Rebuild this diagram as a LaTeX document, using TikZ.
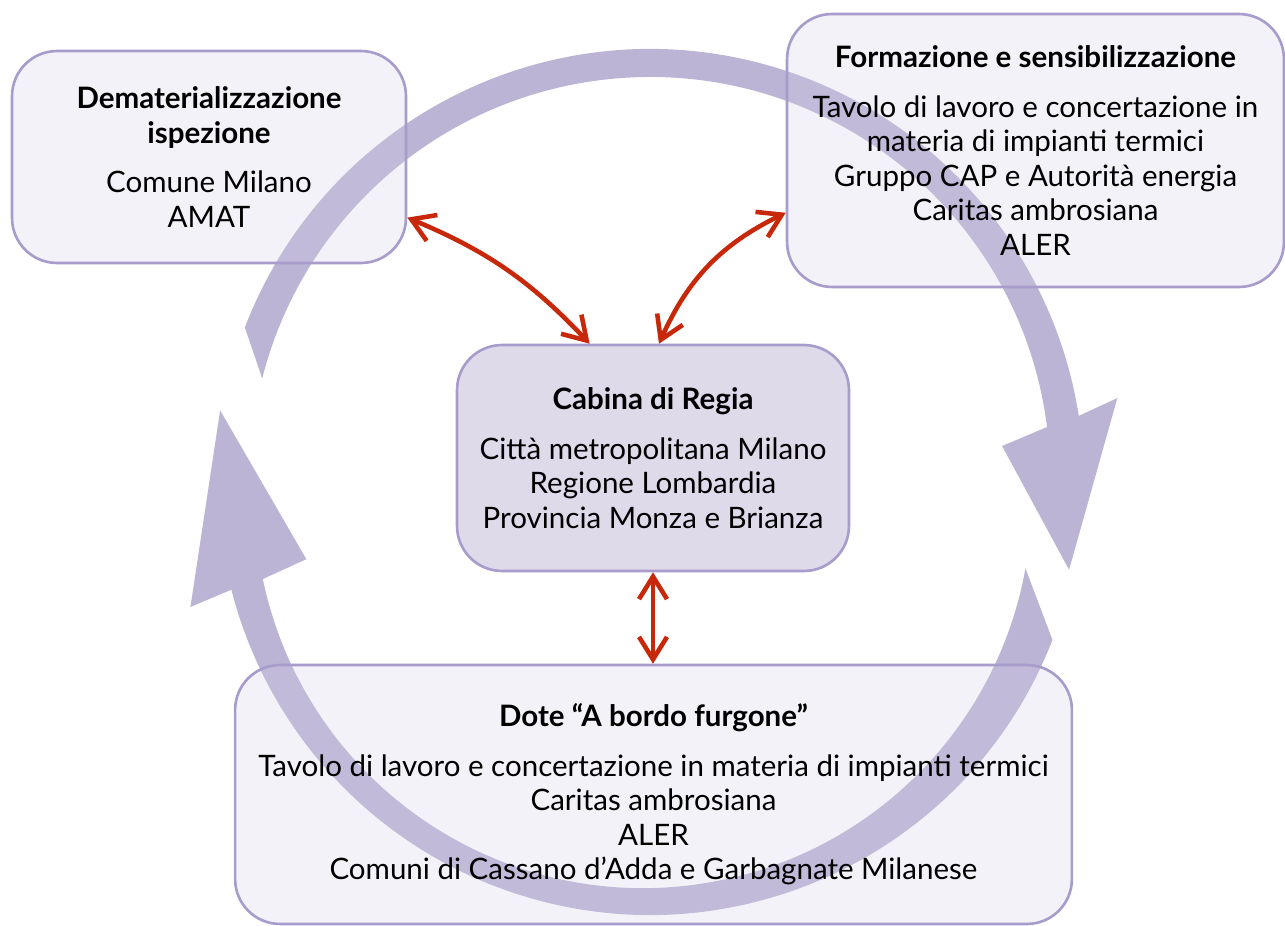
\documentclass[tikz,border=0pt]{standalone}
\usepackage{fontspec}
\setmainfont{Lato}
\usetikzlibrary{arrows.meta}
\definecolor{loopviolet}{RGB}{188,180,213}
\definecolor{boxedge}{RGB}{168,156,204}
\definecolor{boxlight}{RGB}{208,205,228}
\definecolor{boxdark}{RGB}{222,218,234}
\definecolor{linkred}{RGB}{200,40,10}
\tikzset{
  actor/.style={draw=boxedge, line width=1.5pt, rounded corners=0.9cm, fill=boxlight,
    fill opacity=0.25, text opacity=1, align=center, inner sep=0pt,
    font=\fontsize{16.8}{19.6}\selectfont},
  link/.style={draw=linkred, line width=2.6pt, <->, >={Straight Barb[length=4.5mm,width=5.6mm]}},
}

\begin{document}
\begin{tikzpicture}[x=0.02cm,y=0.02cm]
      \useasboundingbox (0,0) rectangle (1285,-926);
      % the two big arrows of the cycle
      \begin{scope}[shift={(650,-483)}]
        \fill[loopviolet] (159:434) arc[start angle=159, end angle=8.9, radius=434]
          -- (10.3:475) -- (-11.7:428) -- (6:354)
          -- ([shift={(0,5.8)}]7.2:400.2) arc[start angle=7.2, end angle=165.7, radius=400.2] -- cycle;
        \fill[loopviolet] (-21.3:432) arc[start angle=-21.3, end angle=-165.7, radius=432]
          -- (-164.9:476) -- (-189.6:436) -- (-167.5:352)
          -- ([shift={(-6.9,-16.6)}]-168.2:388.5) arc[start angle=-168.2, end angle=-10.2, radius=388.5] -- cycle;
      \end{scope}
      % boxes
      \node[actor, minimum width=7.88cm, minimum height=4.24cm] (demat) at (209,-157)
        {\textbf{Dematerializzazione}\\\textbf{ispezione}\\[0.3cm]Comune Milano\\AMAT};
      \node[actor, minimum width=9.94cm, minimum height=5.46cm] (forma) at (1035.5,-150.5)
        {\textbf{Formazione e sensibilizzazione}\\[0.3cm]Tavolo di lavoro e concertazione in\\materia di impianti termici\\Gruppo CAP e Autorità energia\\Caritas ambrosiana\\ALER};
      \node[actor, fill=boxdark, fill opacity=1, minimum width=7.84cm, minimum height=4.52cm] (cabina) at (653,-458)
        {\textbf{Cabina di Regia}\\[0.3cm]Città metropolitana Milano\\Regione Lombardia\\Provincia Monza e Brianza};
      \node[actor, minimum width=16.74cm, minimum height=5.18cm] (dote) at (653.5,-794.5)
        {\textbf{Dote “A bordo furgone”}\\[0.3cm]Tavolo di lavoro e concertazione in materia di impianti termici\\Caritas ambrosiana\\ALER\\Comuni di Cassano d’Adda e Garbagnate Milanese};
      % links to the control room
      \draw[link] (demat.-17) to[bend left=12] (cabina.119);
      \draw[link] (cabina.87) to[bend left=20] (forma.-166);
      \draw[link] (cabina.south) -- (cabina.south |- dote.north);
\end{tikzpicture}
\end{document}
